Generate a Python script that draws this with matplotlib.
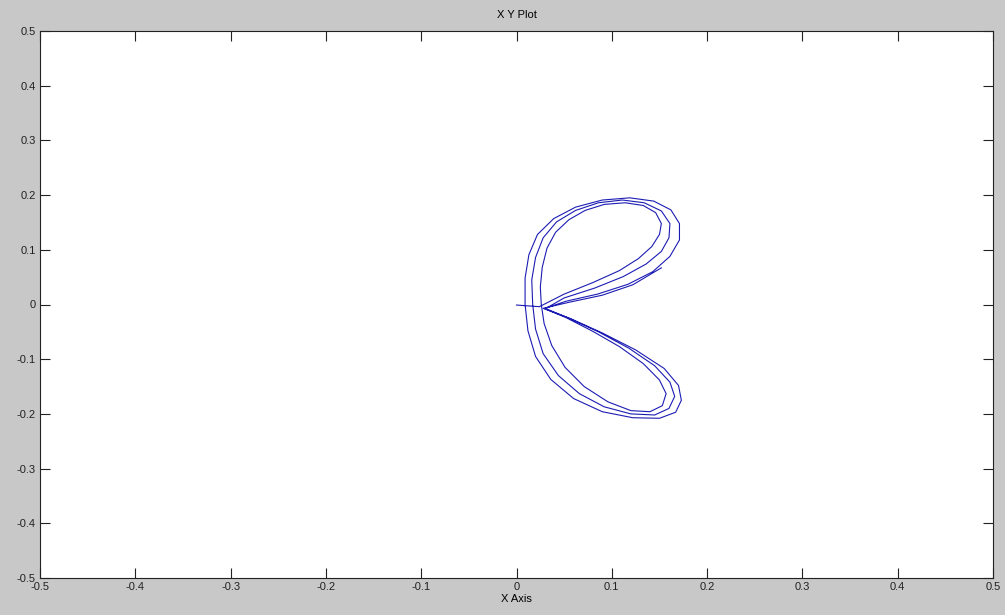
import matplotlib
matplotlib.use('Agg')
import matplotlib.pyplot as plt
import numpy as np

plt.rcParams['font.family'] = ['Liberation Sans', 'DejaVu Sans']

# x-y trace (tail, three loops, partial fourth pass)
x_pts = [0.000, 0.024,
         0.050, 0.080, 0.108, 0.128, 0.142, 0.150, 0.152, 0.146, 0.133, 0.114,
         0.092, 0.072, 0.055, 0.041, 0.032, 0.027, 0.025, 0.026, 0.029, 0.037,
         0.051, 0.071, 0.096, 0.120, 0.140, 0.153, 0.157, 0.150, 0.133, 0.108,
         0.080, 0.052, 0.030,
         0.050, 0.082, 0.112, 0.136, 0.152, 0.160, 0.161, 0.152, 0.134, 0.111,
         0.086, 0.062, 0.042, 0.028, 0.020, 0.016, 0.017, 0.020, 0.028, 0.044,
         0.066, 0.092, 0.120, 0.145, 0.160, 0.166, 0.161, 0.145, 0.118, 0.086,
         0.055, 0.030,
         0.052, 0.085, 0.117, 0.143, 0.161, 0.171, 0.171, 0.162, 0.144, 0.119,
         0.090, 0.062, 0.039, 0.022, 0.013, 0.009, 0.009, 0.012, 0.020, 0.036,
         0.060, 0.090, 0.122, 0.150, 0.167, 0.173, 0.170, 0.155, 0.125, 0.090,
         0.057, 0.028,
         0.055, 0.090, 0.122, 0.152]
y_pts = [-0.001, -0.004,
         0.019, 0.040, 0.062, 0.084, 0.106, 0.128, 0.148, 0.168, 0.181, 0.186,
         0.183, 0.172, 0.155, 0.132, 0.103, 0.068, 0.032, 0.000, -0.035, -0.075,
         -0.115, -0.150, -0.178, -0.194, -0.196, -0.185, -0.163, -0.138, -0.108, -0.077,
         -0.049, -0.024, -0.008,
         0.012, 0.030, 0.051, 0.074, 0.097, 0.122, 0.148, 0.171, 0.186, 0.191,
         0.186, 0.172, 0.151, 0.122, 0.086, 0.045, 0.000, -0.045, -0.090, -0.130,
         -0.163, -0.187, -0.200, -0.202, -0.190, -0.168, -0.142, -0.112, -0.080, -0.050,
         -0.025, -0.007,
         0.006, 0.019, 0.037, 0.060, 0.088, 0.118, 0.148, 0.173, 0.189, 0.195,
         0.191, 0.178, 0.157, 0.128, 0.091, 0.048, 0.000, -0.048, -0.095, -0.137,
         -0.172, -0.196, -0.207, -0.208, -0.197, -0.175, -0.148, -0.117, -0.083, -0.052,
         -0.026, -0.007,
         0.004, 0.017, 0.036, 0.067]

ticks = [-0.5, -0.4, -0.3, -0.2, -0.1, 0, 0.1, 0.2, 0.3, 0.4, 0.5]
tick_labels = ['-0.5', '-0.4', '-0.3', '-0.2', '-0.1', '0', '0.1', '0.2', '0.3', '0.4', '0.5']

fig = plt.figure(figsize=(10.05, 6.15), dpi=100, facecolor='#c8c8c8')
ax = fig.add_axes([40 / 1005, 1 - 578 / 615, 953 / 1005, 547 / 615])
ax.set_facecolor('white')

ax.plot(x_pts, y_pts, color='#1c1cb4', linewidth=0.8)

ax.set_xlim(-0.5, 0.5)
ax.set_ylim(-0.5, 0.5)
ax.set_xticks(ticks)
ax.set_xticklabels(tick_labels)
ax.set_yticks(ticks)
ax.set_yticklabels(tick_labels)
ax.tick_params(direction='in', length=7, width=0.8, top=True, right=True,
               labelsize=8, pad=3, colors='#222222')
for s in ax.spines.values():
    s.set_linewidth(0.8)
    s.set_color('#222222')

ax.set_title('X Y Plot', fontsize=8, pad=9)
ax.set_xlabel('X Axis', fontsize=8, labelpad=1)

plt.savefig('out.png', dpi=100, facecolor=fig.get_facecolor())
